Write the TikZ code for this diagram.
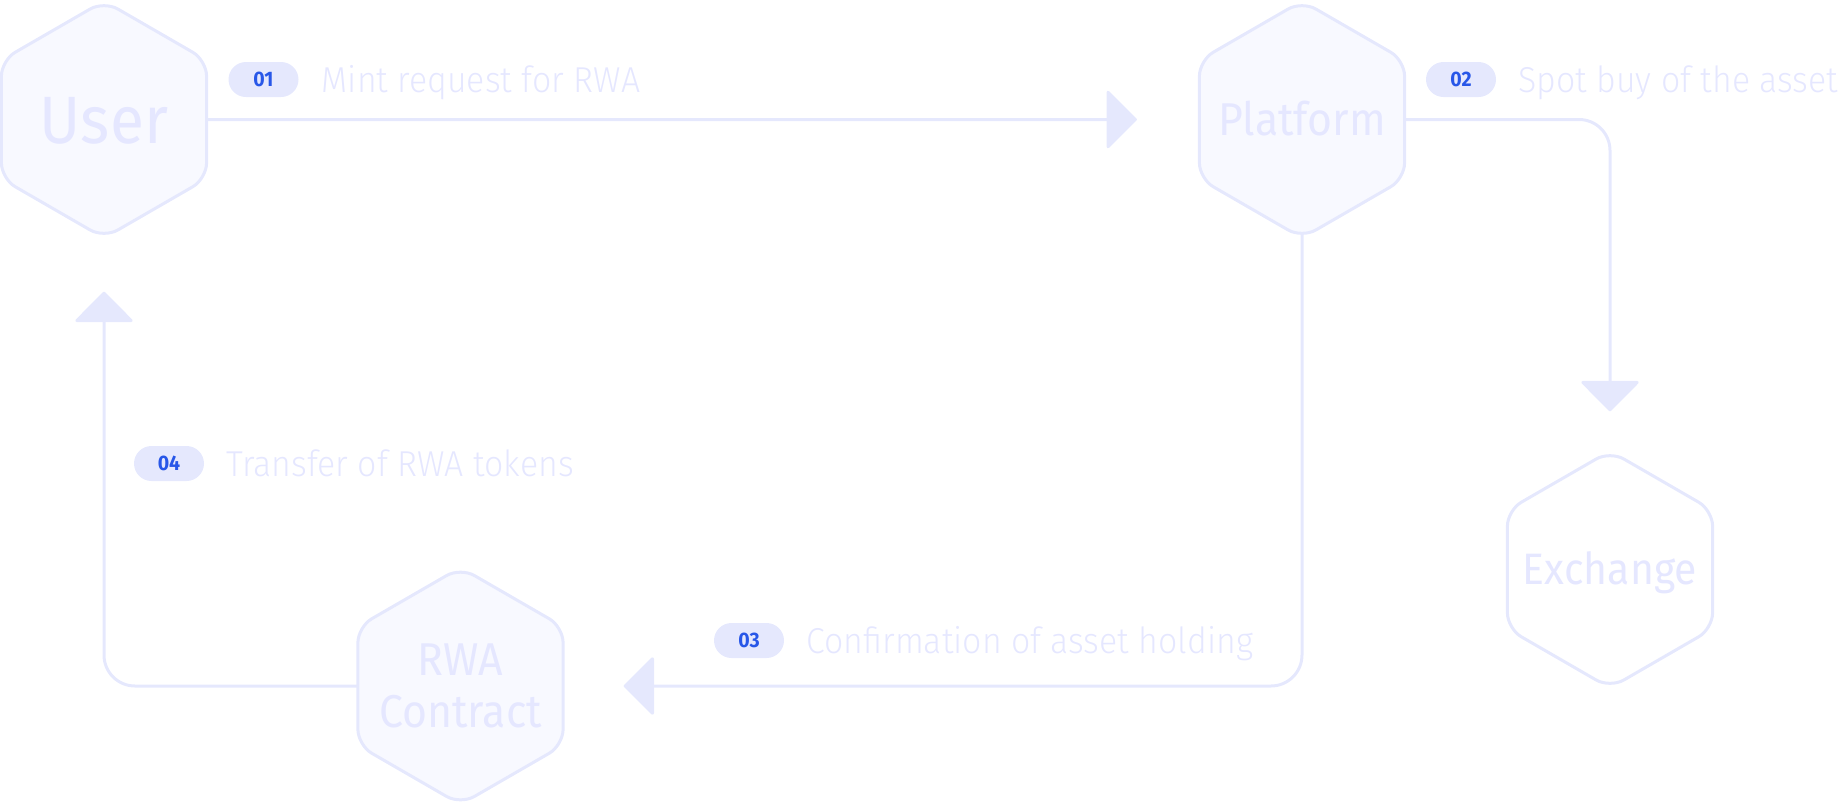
\documentclass[tikz,border=0pt]{standalone}
\usepackage{fontspec}
\setmainfont{Fira Sans}[FakeStretch=0.93]
\newfontfamily\lightfont{Fira Sans Light}[FakeStretch=0.94]
\usetikzlibrary{shapes.geometric,arrows.meta,backgrounds}

\definecolor{hexfill}{HTML}{F8F9FF}
\definecolor{hexline}{HTML}{E5E8FD}
\definecolor{softtext}{HTML}{E5E7FF}
\definecolor{pillfill}{HTML}{E5E8FD}
\definecolor{pillnum}{HTML}{2857E8}

\tikzset{
  hexa/.style={regular polygon,regular polygon sides=6,shape border rotate=30,
    minimum size=237pt,rounded corners=16pt,draw=hexline,line width=3pt,
    fill=hexfill,text=softtext,inner sep=0pt},
  pill/.style={rounded corners=17.5pt,fill=pillfill,minimum width=70pt,
    minimum height=35pt,inner sep=0pt,text=pillnum,
    font=\fontsize{21}{21}\selectfont\bfseries},
  steptext/.style={anchor=base west,inner sep=0pt,text=softtext,
    font=\lightfont\fontsize{36}{36}\selectfont},
  flow/.style={draw=hexline,line width=3pt,rounded corners=31pt,
    -{Triangle[width=61pt,length=31pt,round,fill=hexline]}}
}

\begin{document}
\begin{tikzpicture}[x=1pt,y=-1pt]

        \useasboundingbox (0,0) rectangle (1840,804);

        \begin{scope}[every node/.style={hexa}]
          \node[font=\fontsize{67}{67}\selectfont,text height=47pt,text depth=0pt]
            (user) at (104,119.5) {\makebox[0pt]{User}};
          \node[font=\fontsize{46}{46}\selectfont,text height=32pt,text depth=0pt]
            (platform) at (1302,119.5) {\makebox[0pt]{Platform}};
          \node[fill=white,font=\fontsize{44}{44}\selectfont,text height=30pt,text depth=0pt]
            (exchange) at (1610,569.5) {\makebox[0pt]{Exchange}};
          \node[align=center,font=\fontsize{46}{52}\selectfont]
            (rwa) at (460.5,686) {\makebox[0pt]{RWA}\\\makebox[0pt]{Contract}};
        \end{scope}

        % step numbers and captions
        \node[pill] (n1) at (263.5,79.5) {01};
        \node[pill] (n2) at (1461,79.5)  {02};
        \node[pill] (n3) at (749,640.5)  {03};
        \node[pill] (n4) at (169,463.5)  {04};

        \node[steptext] (t1) at ([xshift=23pt,yshift=-12.5pt]n1.east) {Mint request for RWA};
        \node[steptext] (t2) at ([xshift=22pt,yshift=-12.5pt]n2.east) {Spot buy of the asset};
        \node[steptext] (t3) at ([xshift=22pt,yshift=-12.5pt]n3.east) {Confirmation of asset holding};
        \node[steptext] (t4) at ([xshift=22pt,yshift=-12.5pt]n4.east) {Transfer of RWA tokens};

        \begin{scope}[on background layer]
          \draw[flow] (user.center) -- ([xshift=-61pt]platform.west);
          \draw[flow] (platform.center) -| ([yshift=38pt]exchange.north);
          \draw[flow] (platform.center) |- ([xshift=59pt]rwa.east);
          \draw[flow] (rwa.center) -| ([yshift=-52pt]user.south);
        \end{scope}

      \end{tikzpicture}
\end{document}
